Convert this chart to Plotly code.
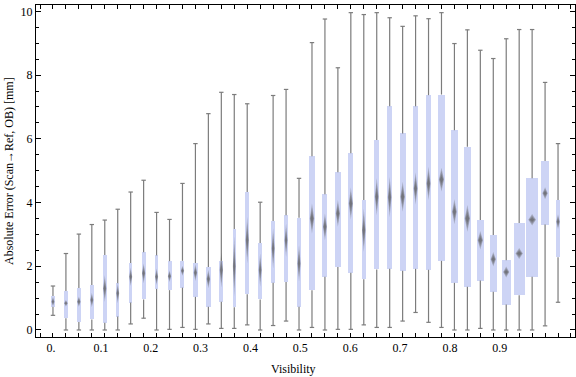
import plotly.graph_objects as go

# ---------------- data ----------------
x_labels = ["0.", "0.1", "0.2", "0.3", "0.4", "0.5", "0.6", "0.7", "0.8", "0.9"]
x_label_values = [0.0, 0.1, 0.2, 0.3, 0.4, 0.5, 0.6, 0.7, 0.8, 0.9]
y_tick_values = [0, 2, 4, 6, 8, 10]

whisker_low = [0.46, 0, 0, 0, 0, 0, 0.19, 0.37, 0, 0.02, 0.08, 0.02, 0.19, 0.05, 0.05, 0.16, 0, 0.14, 0.28, 0,
               0.08, 0, 0.02, 0.02, 0.16, 0.08, 0.08, 0.28, 0.55, 0.24, 0.08, 0, 0, 0.05, 0, 0, 0, 0, 0.13, 0.87]
q1 = [0.73, 0.37, 0.25, 0.33, 0.23, 0.42, 0.86, 0.96, 1.29, 1.25, 1.33, 1.04, 0.73, 0.89, 0.71, 1.12, 0.96, 1.48, 1.51, 0.73,
      1.25, 1.67, 1.98, 1.80, 1.59, 1.90, 1.92, 1.86, 1.92, 1.89, 2.17, 1.48, 1.36, 1.55, 1.20, 0.80, 1.09, 1.67, 3.31, 2.28]
median = [0.89, 0.84, 0.89, 0.94, 1.30, 1.15, 1.67, 1.78, 1.67, 1.69, 1.86, 1.80, 1.60, 1.88, 2.00, 2.82, 1.88, 2.56, 2.82, 2.09,
          3.50, 3.24, 3.66, 3.97, 3.13, 4.18, 4.17, 4.18, 4.44, 4.60, 4.72, 3.71, 3.50, 2.82, 2.22, 1.82, 2.40, 3.46, 4.29, 3.40]
q3 = [1.07, 1.22, 1.32, 1.41, 2.35, 1.47, 2.10, 2.44, 2.34, 2.16, 2.17, 2.10, 1.98, 2.17, 3.17, 4.33, 2.73, 3.42, 3.60, 3.52,
      5.45, 4.26, 4.95, 5.55, 4.08, 5.96, 7.02, 6.17, 7.02, 7.37, 7.39, 6.27, 5.75, 3.45, 2.98, 2.19, 3.36, 4.76, 5.30, 4.08]
whisker_high = [1.38, 2.40, 3.01, 3.31, 3.45, 3.79, 4.33, 4.70, 3.69, 3.47, 4.60, 5.85, 6.79, 7.46, 7.39, 7.10, 4.01, 7.36, 7.55, 4.76,
                9.02, 9.76, 8.23, 9.96, 9.90, 9.96, 9.80, 9.53, 9.86, 9.77, 9.96, 8.99, 9.42, 8.78, 8.52, 9.14, 9.43, 9.43, 7.77, 5.85]
notch_half = [0.15, 0.10, 0.16, 0.23, 0.42, 0.31, 0.29, 0.31, 0.26, 0.18, 0.16, 0.26, 0.29, 0.55, 0.94, 0.73, 0.52, 0.63, 0.52, 0.57,
              0.47, 0.42, 0.42, 0.50, 0.68, 0.58, 0.63, 0.47, 0.50, 0.52, 0.37, 0.39, 0.42, 0.29, 0.23, 0.17, 0.17, 0.18, 0.19, 0.23]

# ---------------- styles ----------------
box_width_px = [3.6, 4.6, 4.3, 3.6, 4, 3.4, 3.6, 4, 3.6, 4, 4, 4.3, 4.3, 4, 3.2, 3.8, 3.4, 3.4, 3.4, 3.8,
                5.7, 5, 5.3, 5.3, 4.4, 4.7, 4.5, 6, 5, 5.3, 7, 6.3, 7.3, 7.3, 7.3, 8.7, 10.7, 11.3, 7.3, 4.3]
W, H = 576, 377
M_L, M_R, M_T, M_B = 36, 1, 5, 40
PX_PER_UNIT = 12.95          # pixels between neighbouring boxes
LABEL_OFFSET, LABEL_SCALE = -0.15, 38.5
BOX_COLOR = "#CDD4F5"
WHISKER_COLOR = "#7C7C7C"
FONT = "Liberation Serif"

n = len(median)
xs = list(range(n))
widths = [w / PX_PER_UNIT for w in box_width_px]

fig = go.Figure()

# boxes
fig.add_trace(go.Bar(
    x=xs, base=q1, y=[b - a for a, b in zip(q1, q3)], width=widths,
    marker=dict(color=BOX_COLOR, line=dict(width=0)), hoverinfo="skip", showlegend=False))

# whiskers with caps
cap = 2.2 / PX_PER_UNIT
wx, wy = [], []
for i in xs:
    wx += [i, i, None, i - cap, i + cap, None, i, i, None, i - cap, i + cap, None]
    wy += [q3[i], whisker_high[i], None, whisker_high[i], whisker_high[i], None,
           q1[i], whisker_low[i], None, whisker_low[i], whisker_low[i], None]
fig.add_trace(go.Scatter(x=wx, y=wy, mode="lines", line=dict(color=WHISKER_COLOR, width=1.2),
                         hoverinfo="skip", showlegend=False, connectgaps=False))

# median notches (layered diamonds -> soft gradient)
for s in [1.0, 0.75, 0.5, 0.28]:
    dx, dy = [], []
    for i in xs:
        hw = (0.3 * box_width_px[i] + 0.5) / PX_PER_UNIT * (0.4 + 0.6 * s)
        hh = notch_half[i] * s
        m = median[i]
        dx += [i, i + hw, i, i - hw, i, None]
        dy += [m + hh, m, m - hh, m, m + hh, None]
    fig.add_trace(go.Scatter(x=dx, y=dy, mode="lines", fill="toself",
                             fillcolor="rgba(85,85,85,0.30)", line=dict(width=0, color="rgba(0,0,0,0)"),
                             hoverinfo="skip", showlegend=False, connectgaps=False))

label_pos = [LABEL_OFFSET + v * LABEL_SCALE for v in x_label_values]

fig.update_layout(
    width=W, height=H,
    margin=dict(l=M_L, r=M_R, t=M_T, b=M_B, autoexpand=False),
    plot_bgcolor="white", paper_bgcolor="white",
    font=dict(family=FONT, size=12, color="black"),
    bargap=0,
    xaxis=dict(
        range=[-1.31, 40.31], tickmode="array", tickvals=label_pos, ticktext=x_labels,
        ticks="", showgrid=False, zeroline=False, automargin=False,
        showline=True, linecolor="black", linewidth=1, mirror="allticks",
        minor=dict(tickmode="linear", tick0=0, dtick=1, ticks="inside", ticklen=4,
                   tickcolor="black", tickwidth=1, showgrid=False),
        tickfont=dict(family=FONT, size=12, color="black"),
    ),
    yaxis=dict(
        range=[-0.22, 10.2], tickmode="array", tickvals=y_tick_values,
        ticks="inside", ticklen=5, tickcolor="black", tickwidth=1,
        showgrid=False, zeroline=False, automargin=False,
        showline=True, linecolor="black", linewidth=1, mirror="allticks",
        minor=dict(tickmode="linear", tick0=0, dtick=0.5, ticks="inside", ticklen=3,
                   tickcolor="black", tickwidth=1, showgrid=False),
        tickfont=dict(family=FONT, size=12, color="black"),
    ),
    annotations=[
        dict(text="Visibility", xref="paper", yref="paper",
             x=(293 - M_L) / (W - M_L - M_R), y=-(369 - (H - M_B)) / (H - M_T - M_B),
             xanchor="center", yanchor="middle", showarrow=False,
             font=dict(family=FONT, size=12, color="black")),
        dict(text="Absolute Error (Scan\u2192Ref, OB) [mm]", xref="paper", yref="paper",
             x=-(M_L - 9) / (W - M_L - M_R), y=0.5, textangle=-90,
             xanchor="center", yanchor="middle", showarrow=False,
             font=dict(family=FONT, size=12, color="black")),
    ],
)

fig.write_html("out.html", config={"displayModeBar": False, "staticPlot": True},
               post_script="document.body.style.margin='0';document.body.style.overflow='hidden';")
